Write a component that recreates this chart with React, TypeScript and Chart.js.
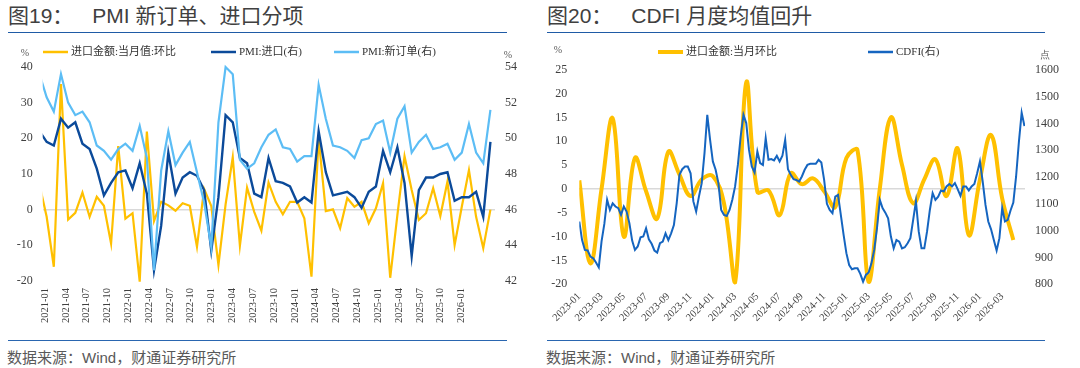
import React, { useEffect, useRef } from "react";
import { Chart, registerables } from "chart.js";

Chart.register(...registerables);

// ---------------- helpers ----------------
function monthRange(start: string, count: number): string[] {
  const [y0, m0] = start.split("-").map(Number);
  const out: string[] = [];
  for (let i = 0; i < count; i++) {
    const t = y0 * 12 + (m0 - 1) + i;
    out.push(`${Math.floor(t / 12)}-${String((t % 12) + 1).padStart(2, "0")}`);
  }
  return out;
}
function monthOffset(label: string, base: string): number {
  const [y, m] = label.split("-").map(Number);
  const [by, bm] = base.split("-").map(Number);
  return (y - by) * 12 + (m - bm);
}

// ---------------- Figure 19 data (monthly, 2020-12 .. 2026-03) ----------------
const fig19Months = monthRange("2020-12", 64);

const importMoM = [
  7.0, -2.0, -16.0, 35.2, -2.8, -0.9, 4.8, -2.0, 3.6, 1.1,
  -9.5, 17.8, -2.5, -1.0, -20.2, 21.9, -3.2, 2.2, 1.2, -0.3,
  1.8, 1.1, -10.4, 5.8, 1.0, -15.5, 1.5, 14.7, -10.1, 6.2,
  -0.6, -5.9, 7.6, 2.2, -1.3, 2.2, 2.2, -2.4, -18.8, 20.0,
  -0.4, 0.1, -5.2, 3.2, 0.8, 2.2, -3.8, 0.4, 7.4, -19.1,
  -1.5, 15.0, 5.5, -2.9, -1.0, 6.0, -1.8, 7.9, -9.9, 0.8,
  11.1, -2.0, -10.8, 0.0,
];

const pmiImport = [
  50.4, 49.8, 49.6, 51.1, 50.6, 50.9, 49.7, 49.4, 48.3, 46.8,
  47.5, 48.1, 48.2, 47.2, 48.6, 46.9, 42.6, 45.1, 49.2, 46.9,
  47.8, 48.1, 47.9, 47.1, 43.7, 46.7, 51.3, 50.9, 48.9, 48.6,
  46.9, 46.7, 48.9, 47.6, 47.5, 47.3, 46.4, 46.7, 46.4, 50.4,
  48.1, 46.8, 46.9, 47.0, 46.7, 46.1, 47.0, 47.3, 49.3, 48.1,
  49.5, 47.5, 43.4, 47.1, 47.8, 47.8, 48.0, 48.1, 46.5, 46.7,
  46.7, 47.0, 45.6, 49.8,
];

const pmiNewOrders = [
  53.6, 52.3, 51.5, 53.6, 52.0, 51.3, 51.5, 50.9, 49.6, 49.3,
  48.8, 49.4, 49.7, 49.3, 50.7, 48.9, 42.6, 48.2, 50.4, 48.5,
  49.2, 49.8, 48.1, 46.4, 43.9, 50.9, 54.0, 53.6, 48.8, 48.3,
  48.6, 49.5, 50.2, 50.5, 49.5, 49.4, 48.7, 49.0, 49.0, 53.0,
  51.1, 49.6, 49.5, 49.3, 48.9, 49.9, 50.0, 50.8, 51.0, 49.2,
  51.1, 51.8, 49.2, 49.8, 50.2, 49.4, 49.5, 49.7, 48.8, 49.2,
  50.8, 49.2, 48.6, 51.6,
];

const fig19TickLabels = [
  "2021-01", "2021-04", "2021-07", "2021-10", "2022-01", "2022-04", "2022-07",
  "2022-10", "2023-01", "2023-04", "2023-07", "2023-10", "2024-01", "2024-04",
  "2024-07", "2024-10", "2025-01", "2025-04", "2025-07", "2025-10", "2026-01",
];

// ---------------- Figure 20 data ----------------
const fig20Months = monthRange("2023-01", 40);

const importMoMSmooth = [
  1.8, -15.6, 0.0, 14.8, -10.0, 6.5, -0.5, -6.2, 7.8, 3.0,
  -1.5, 2.0, 2.7, -3.0, -19.6, 22.3, -0.6, -0.3, -5.5, 3.3,
  1.0, 2.2, -0.5, -3.8, 6.5, 8.1, -19.5, 0.0, 15.0, 5.0,
  -3.0, 2.0, 6.2, -1.5, 8.5, -9.7, 2.0, 11.3, -2.0, -10.7,
];

// CDFI, read at quarter-month steps from 2023-01
const cdfi = [
  1034, 965, 928, 926, 903, 897, 881, 863, 960, 1025,
  1115, 1077, 1102, 1090, 1084, 1059, 1090, 1071, 1028, 963,
  928, 941, 975, 978, 1009, 968, 951, 926, 918, 953,
  959, 990, 965, 990, 1021, 1102, 1208, 1229, 1239, 1239,
  1214, 1109, 1071, 1127, 1177, 1289, 1432, 1339, 1258, 1227,
  1177, 1077, 1059, 1055, 1077, 1115, 1165, 1245, 1351, 1432,
  1401, 1301, 1239, 1217, 1295, 1252, 1245, 1345, 1264, 1267,
  1262, 1279, 1258, 1279, 1339, 1229, 1208, 1192, 1189, 1183,
  1202, 1227, 1245, 1249, 1249, 1249, 1264, 1254, 1189, 1100,
  1077, 1065, 1127, 1133, 1059, 984, 916, 872, 856, 860,
  860, 839, 810, 835, 844, 878, 928, 1009, 1115, 1084,
  1067, 1046, 978, 934, 965, 959, 934, 938, 953, 972,
  1040, 1109, 997, 934, 934, 997, 1077, 1140, 1115, 1127,
  1150, 1146, 1165, 1174, 1165, 1177, 1155, 1130, 1165, 1165,
  1150, 1165, 1174, 1214, 1258, 1183, 1096, 1034, 1005, 965,
  926, 972, 1084, 1034, 1040, 1075, 1105, 1202, 1330, 1440,
  1390,
];
const cdfiStepsPerMonth = 4;

const fig20TickLabels = [
  "2023-01", "2023-03", "2023-05", "2023-07", "2023-09", "2023-11", "2024-01",
  "2024-03", "2024-05", "2024-07", "2024-09", "2024-11", "2025-01", "2025-03",
  "2025-05", "2025-07", "2025-09", "2025-11", "2026-01", "2026-03",
];

// ---------------- styles ----------------
const YELLOW = "#FFC000";
const DARK_BLUE = "#0b4a9a";
const LIGHT_BLUE = "#5cbdf5";
const CDFI_BLUE = "#1565c0";
const TICK_COLOR = "#404040";
const SERIF = "'Liberation Serif', 'Times New Roman', serif";
const LEGEND_FONT = "11px 'Liberation Serif', 'Noto Sans CJK SC', serif";
const SANS = "'Liberation Sans', 'Noto Sans CJK SC', sans-serif";

type LegendItem = { dataset: number; x: number; lineWidth: number };
type Unit = { text: string; x: number; y: number };

function makeDecor(items: LegendItem[], y: number, units: Unit[]) {
  return {
    id: "panelDecor",
    afterDraw(chart: any) {
      const ctx = chart.ctx as CanvasRenderingContext2D;
      ctx.save();
      ctx.textBaseline = "middle";
      for (const it of items) {
        const ds = chart.data.datasets[it.dataset];
        ctx.strokeStyle = ds.borderColor;
        ctx.lineWidth = it.lineWidth;
        ctx.beginPath();
        ctx.moveTo(it.x, y);
        ctx.lineTo(it.x + 25, y);
        ctx.stroke();
        ctx.fillStyle = "#333333";
        ctx.font = LEGEND_FONT;
        ctx.textAlign = "left";
        ctx.fillText(ds.label, it.x + 28, y + 0.5);
      }
      ctx.font = "10px " + SERIF;
      ctx.fillStyle = "#595959";
      ctx.textAlign = "center";
      for (const u of units) ctx.fillText(u.text, u.x, u.y);
      ctx.restore();
    },
  };
}

const zeroGrid = (c: any) =>
  c.tick && c.tick.value === 0 ? "#d9d9d9" : "rgba(0,0,0,0)";

function fig19Config(): any {
  const pts = (arr: number[]) => arr.map((v, i) => ({ x: i, y: v }));
  const clip = { left: 0, right: 0, top: false, bottom: false };
  return {
    type: "line",
    data: {
      labels: fig19Months,
      datasets: [
        { label: "进口金额:当月值:环比", data: pts(importMoM), borderColor: YELLOW, borderWidth: 2.2, yAxisID: "y", xAxisID: "x", pointRadius: 0, tension: 0, order: 3, clip },
        { label: "PMI:进口(右)", data: pts(pmiImport), borderColor: DARK_BLUE, borderWidth: 2.4, yAxisID: "y1", xAxisID: "x", pointRadius: 0, tension: 0, order: 2, clip },
        { label: "PMI:新订单(右)", data: pts(pmiNewOrders), borderColor: LIGHT_BLUE, borderWidth: 2.2, yAxisID: "y1", xAxisID: "x", pointRadius: 0, tension: 0, order: 1, clip },
      ],
    },
    options: {
      responsive: false,
      animation: false,
      devicePixelRatio: 1,
      layout: { padding: { left: 0, top: 31, right: 0, bottom: 0 } },
      plugins: { legend: { display: false }, tooltip: { enabled: false } },
      scales: {
        x: { type: "linear", display: false, min: 0.447, max: 63.64, bounds: "data" },
        xl: {
          type: "linear", position: "bottom", min: -0.331, max: 64.84, bounds: "data",
          grid: { display: false, drawTicks: false }, border: { display: false },
          afterBuildTicks: (s: any) => {
            s.ticks = fig19TickLabels.map((l) => ({ value: monthOffset(l, "2021-01") }));
          },
          ticks: {
            autoSkip: false, minRotation: 90, maxRotation: 90, padding: 7,
            color: TICK_COLOR, font: { family: SERIF, size: 10.5 },
            callback: (_v: any, i: number) => fig19TickLabels[i],
          },
          afterFit: (s: any) => { s.height = 55; },
        },
        y: {
          position: "left", min: -20, max: 40,
          ticks: { stepSize: 10, padding: 10, color: TICK_COLOR, font: { family: SERIF, size: 12 }, callback: (v: any) => String(v) },
          grid: { color: zeroGrid, lineWidth: 1.5, drawTicks: false }, border: { display: false },
          afterFit: (s: any) => { s.width = 42.7; },
        },
        y1: {
          position: "right", min: 42, max: 54,
          ticks: { stepSize: 2, padding: 10, color: TICK_COLOR, font: { family: SERIF, size: 12 }, callback: (v: any) => String(v) },
          grid: { display: false, drawTicks: false }, border: { display: false },
          afterFit: (s: any) => { s.width = 35; },
        },
      },
    },
    plugins: [
      makeDecor(
        [
          { dataset: 0, x: 43, lineWidth: 2.5 },
          { dataset: 1, x: 211, lineWidth: 2.5 },
          { dataset: 2, x: 334, lineWidth: 2.5 },
        ],
        16,
        [ { text: "%", x: 25, y: 17 }, { text: "%", x: 508, y: 19 } ]
      ),
    ],
  };
}

function fig20Config(): any {
  const clip = { left: 0, right: 0, top: false, bottom: false };
  return {
    type: "line",
    data: {
      datasets: [
        {
          label: "进口金额:当月环比",
          data: importMoMSmooth.map((v, i) => ({ x: monthOffset(fig20Months[i], "2023-01"), y: v })),
          borderColor: YELLOW, borderWidth: 4, yAxisID: "y", pointRadius: 0, tension: 0.4, order: 2, clip,
        },
        {
          label: "CDFI(右)",
          data: cdfi.map((v, k) => ({ x: k / cdfiStepsPerMonth, y: v })),
          borderColor: CDFI_BLUE, borderWidth: 2, yAxisID: "y1", pointRadius: 0, tension: 0, order: 1, clip,
        },
      ],
    },
    options: {
      responsive: false,
      animation: false,
      devicePixelRatio: 1,
      layout: { padding: { left: 0, top: 33.7, right: 15, bottom: 0 } },
      plugins: { legend: { display: false }, tooltip: { enabled: false } },
      scales: {
        x: {
          type: "linear", position: "bottom", min: 0, max: 40.05, bounds: "data",
          grid: { display: false, drawTicks: false }, border: { display: false },
          afterBuildTicks: (s: any) => {
            s.ticks = fig20TickLabels.map((l) => ({ value: monthOffset(l, "2023-01") }));
          },
          ticks: {
            autoSkip: false, minRotation: 45, maxRotation: 45, padding: 6,
            color: TICK_COLOR, font: { family: SERIF, size: 10.5 },
            callback: (_v: any, i: number) => fig20TickLabels[i],
          },
          afterFit: (s: any) => { s.height = 51.7; },
        },
        y: {
          position: "left", min: -20, max: 25,
          ticks: { stepSize: 5, padding: 12, color: TICK_COLOR, font: { family: SERIF, size: 12 }, callback: (v: any) => String(v) },
          grid: { color: zeroGrid, lineWidth: 1.5, drawTicks: false }, border: { display: false },
          afterFit: (s: any) => { s.width = 39.3; },
        },
        y1: {
          position: "right", min: 800, max: 1600,
          ticks: { stepSize: 100, padding: 10, color: TICK_COLOR, font: { family: SERIF, size: 12 }, callback: (v: any) => String(v) },
          grid: { display: false, drawTicks: false }, border: { display: false },
          afterFit: (s: any) => { s.width = 40; },
        },
      },
    },
    plugins: [
      makeDecor(
        [
          { dataset: 0, x: 118, lineWidth: 4 },
          { dataset: 1, x: 328, lineWidth: 2.5 },
        ],
        16,
        [ { text: "%", x: 18, y: 14 }, { text: "点", x: 505, y: 19 } ]
      ),
    ],
  };
}

function ChartCanvas(props: { make: () => any; left: number; top: number; width: number; height: number }) {
  const ref = useRef<HTMLCanvasElement>(null);
  useEffect(() => {
    const chart = new Chart(ref.current as HTMLCanvasElement, props.make());
    return () => chart.destroy();
  }, []);
  return (
    <canvas
      ref={ref}
      width={props.width}
      height={props.height}
      style={{ position: "absolute", left: props.left, top: props.top, width: props.width, height: props.height }}
    />
  );
}

function Panel(props: { left: number; lineWidth: number; num: string; title: string; gap: number }) {
  const { left, lineWidth } = props;
  return (
    <>
      <div
        style={{
          position: "absolute", left, top: 0, height: 32, lineHeight: "32px",
          fontSize: 21, fontFamily: SANS, color: "#404040", whiteSpace: "nowrap",
        }}
      >
        <span>{props.num}</span>
        <span style={{ marginLeft: props.gap }}>{props.title}</span>
      </div>
      <div style={{ position: "absolute", left, top: 31.5, width: lineWidth, height: 1.5, background: "#1f5ba6" }} />
      <div style={{ position: "absolute", left, top: 339.5, width: lineWidth, height: 1.5, background: "#2a66b0" }} />
      <div
        style={{
          position: "absolute", left: left - 1, top: 349, height: 17, lineHeight: "17px",
          fontSize: 15, fontFamily: SANS, color: "#595959", whiteSpace: "nowrap",
        }}
      >
        数据来源：Wind，财通证券研究所
      </div>
    </>
  );
}

export default function App() {
  return (
    <div style={{ position: "absolute", left: 0, top: 0, width: 1080, height: 368, background: "#ffffff", overflow: "hidden" }}>
      <Panel left={8} lineWidth={499} num="图19：" title="PMI 新订单、进口分项" gap={19} />
      <Panel left={547} lineWidth={498} num="图20：" title="CDFI 月度均值回升" gap={19} />
      <ChartCanvas make={fig19Config} left={0} top={36} width={530} height={300} />
      <ChartCanvas make={fig20Config} left={540} top={36} width={540} height={300} />
    </div>
  );
}
